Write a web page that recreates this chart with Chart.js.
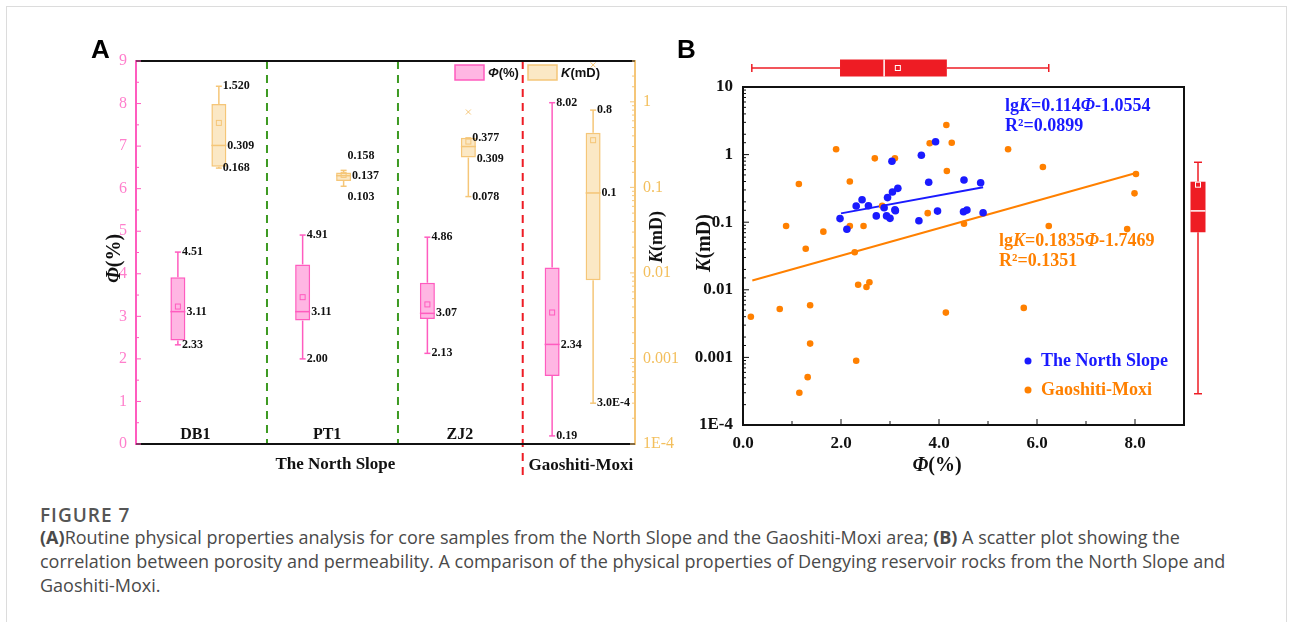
<!DOCTYPE html>
<html>
<head>
<meta charset="utf-8">
<title>Figure 7</title>
<script src="https://cdn.jsdelivr.net/npm/chart.js@4.4.1/dist/chart.umd.min.js"></script>
<style>
  body { margin: 0; width: 1292px; height: 622px; overflow: hidden; position: relative; background: #fff; }
  #frame { position: absolute; left: 6px; top: 6px; width: 1279px; height: 640px; border: 1px solid #dcdcdc; }
  #cA { position: absolute; left: 0; top: 0; }
  #cB { position: absolute; left: 660px; top: 30px; }
  .plab { position: absolute; font: bold 26px "Liberation Sans", Arial, sans-serif; color: #000; line-height: 26px; }
  #fig { position: absolute; left: 40px; top: 503px; font: 600 19px "Open Sans", sans-serif; color: #555; line-height: 24px; letter-spacing: 1px; }
  #cap { position: absolute; left: 40px; top: 525px; font: 18px "Open Sans", sans-serif; color: #4a4a4a; line-height: 24px; white-space: nowrap; }
</style>
</head>
<body>
<div id="frame"></div>
<canvas id="cA" width="700" height="500"></canvas>
<canvas id="cB" width="600" height="470"></canvas>
<div class="plab" style="left:91px;top:36px">A</div>
<div class="plab" style="left:677px;top:36px">B</div>
<div id="fig">FIGURE 7</div>
<div id="cap"><b>(A)</b>Routine physical properties analysis for core samples from the North Slope and the Gaoshiti-Moxi area; <b>(B)</b> A scatter plot showing the<br>correlation between porosity and permeability. A comparison of the physical properties of Dengying reservoir rocks from the North Slope and<br>Gaoshiti-Moxi.</div>

<script>
// ---------- Panel A: box plots per well ----------
const wells = ['DB1', 'PT1', 'ZJ2', 'Gaoshiti-Moxi'];

// porosity Φ (%)
const phiMin  = [2.33, 2.00, 2.13, 0.19];
const phiQ1   = [2.43, 2.90, 2.94, 1.60];
const phiMed  = [3.11, 3.11, 3.07, 2.34];
const phiQ3   = [3.92, 4.22, 3.79, 4.15];
const phiMax  = [4.51, 4.91, 4.86, 8.02];
const phiMean = [3.23, 3.45, 3.28, 3.09];
const phiTags = [['4.51', '3.11', '2.33'], ['4.91', '3.11', '2.00'], ['4.86', '3.07', '2.13'], ['8.02', '2.34', '0.19']];

// permeability K (mD)
const kMin  = [0.168, 0.103, 0.078, 0.0003];
const kQ1   = [0.174, 0.119, 0.223, 0.0082];
const kMed  = [0.309, 0.137, 0.300, 0.086];
const kQ3   = [0.94, 0.149, 0.379, 0.434];
const kMax  = [1.52, 0.158, 0.379, 0.8];
const kMean = [0.567, 0.140, 0.343, 0.356];
const kOutliers = [[], [], [0.76], [2.7]];
const kTags = [['1.520', '0.309', '0.168'], ['0.158', '0.137', '0.103'], ['0.377', '0.309', '0.078'], ['0.8', '0.1', '3.0E-4']];

// ---------- Panel B: Φ vs K scatter ----------
const northPhi = [1.98, 2.12, 2.31, 2.43, 2.56, 2.72, 2.88, 2.95, 3.05, 3.16, 2.93, 3.00, 3.10, 3.11, 3.04,
                  3.59, 3.64, 3.79, 3.93, 3.97, 4.51, 4.50, 4.57, 4.85, 4.90];
const northK   = [0.113, 0.0785, 0.174, 0.215, 0.175, 0.124, 0.164, 0.231, 0.280, 0.317, 0.124, 0.114, 0.153, 0.148, 0.796,
                  0.105, 0.977, 0.389, 1.55, 0.146, 0.42, 0.143, 0.151, 0.384, 0.138];
const gmPhi = [0.16, 0.75, 0.88, 1.14, 1.15, 1.28, 1.32, 1.37, 1.37, 1.64, 1.90, 2.18, 2.18, 2.28, 2.31, 2.35, 2.52, 2.58,
               2.46, 2.69, 2.84, 3.10, 3.77, 3.81, 4.15, 4.16, 4.26, 4.14, 4.51, 5.41, 5.73, 6.12, 6.24, 7.84, 7.99, 8.02];
const gmK   = [0.0040, 0.0052, 0.088, 0.367, 0.0003, 0.0405, 0.00051, 0.0059, 0.0016, 0.0725, 1.20, 0.40, 0.088, 0.036,
               0.00089, 0.0119, 0.011, 0.0129, 0.088, 0.88, 0.175, 0.88, 0.136, 1.47, 2.74, 0.571, 1.50, 0.0046, 0.095,
               1.20, 0.0054, 0.656, 0.088, 0.079, 0.267, 0.516];

// fitted trend lines (end points as drawn)
const northFitPhi = [2.0, 4.9];
const northFitK   = [0.135, 0.33];
const gmFitPhi = [0.19, 8.02];
const gmFitK   = [0.0137, 0.535];

// marginal box plots: [min, q1, median, q3, max, mean]
const margPhi = [0.18, 1.98, 2.88, 4.16, 6.24, 3.16];
const margK   = [0.00029, 0.071, 0.147, 0.397, 0.77, 0.359];

// ---------- layout / styles ----------
const pink = '#ff5cbf', pinkText = '#ff7fcc', pinkFill = 'rgba(255,110,200,0.5)';
const tan = '#f5c678', tanText = '#f3bf5c', tanFill = 'rgba(248,210,140,0.5)';
const green = '#3d9a22', red = '#ee1c24';
const blue = '#1a1aff', orange = '#ff8000';
const serif = '"Liberation Serif", "Times New Roman", serif';
const sans = '"Liberation Sans", Arial, sans-serif';
const dividerAt = [0.55, 1.6, 2.6];          // category units
const wellLabelShift = [-3, 4, 12];
const kTagShift = [[0, 0, 0], [-14, 0, 11], [0, 12, 0], [0, 0, 0]];

function powLabel(v) {
  const l = Math.log10(v), e = Math.round(l);
  if (Math.abs(l - e) > 1e-6) return '';
  if (e <= -4) return '1E' + e;
  return e >= 0 ? String(Math.pow(10, e)) : Math.pow(10, e).toFixed(-e);
}

function line(ctx, x1, y1, x2, y2) {
  ctx.beginPath(); ctx.moveTo(x1, y1); ctx.lineTo(x2, y2); ctx.stroke();
}

// parts: [text, italic]
function richText(ctx, parts, x, y, size, color, family, align, rotate) {
  ctx.save();
  ctx.translate(x, y);
  if (rotate) ctx.rotate(-Math.PI / 2);
  const fontOf = it => (it ? 'italic ' : '') + 'bold ' + size + 'px ' + family;
  let total = 0;
  parts.forEach(p => { ctx.font = fontOf(p[1]); total += ctx.measureText(p[0]).width; });
  let cx = align === 'center' ? -total / 2 : 0;
  ctx.fillStyle = color; ctx.textBaseline = 'middle'; ctx.textAlign = 'left';
  parts.forEach(p => { ctx.font = fontOf(p[1]); ctx.fillText(p[0], cx, 0); cx += ctx.measureText(p[0]).width; });
  ctx.restore();
}

// short tick marks pointing into the plot area
const inwardTicks = {
  id: 'inwardTicks',
  afterDraw(chart, args, opts) {
    const {ctx, chartArea: a} = chart;
    ctx.save();
    ctx.lineWidth = 1;
    Object.keys(opts).forEach(id => {
      const s = chart.scales[id], o = opts[id];
      if (!s) return;
      ctx.strokeStyle = o.color;
      s.ticks.forEach(t => {
        const p = s.getPixelForValue(t.value);
        const len = t.label !== '' ? o.major : o.minor;
        if (s.position === 'left') line(ctx, a.left, p, a.left + len, p);
        else if (s.position === 'right') line(ctx, a.right, p, a.right - len, p);
        else line(ctx, p, a.bottom, p, a.bottom - len);
      });
    });
    ctx.restore();
  }
};

const panelAExtras = {
  id: 'panelAExtras',
  beforeDatasetsDraw(chart) {
    const {ctx, chartArea: a, scales: {x}} = chart;
    ctx.save();
    ctx.lineWidth = 2;
    ctx.setLineDash([8, 6]);
    dividerAt.forEach((v, i) => {
      const px = x.getPixelForValue(v);
      ctx.strokeStyle = i < 2 ? green : red;
      line(ctx, px, a.top, px, i < 2 ? a.bottom : a.bottom + 31);
    });
    ctx.restore();
  },
  afterDatasetsDraw(chart) {
    const {ctx, chartArea: a, scales: {x, yPhi, yK}} = chart;
    const sets = [
      {scale: yPhi, color: pink, min: phiMin, med: phiMed, max: phiMax, mean: phiMean, out: [[], [], [], []], tags: phiTags, shift: [[0,0,0],[0,0,0],[0,0,0],[0,0,0]]},
      {scale: yK, color: tan, min: kMin, med: kMed, max: kMax, mean: kMean, out: kOutliers, tags: kTags, shift: kTagShift}
    ];
    ctx.save();
    sets.forEach((s, d) => {
      chart.getDatasetMeta(d).data.forEach((bar, i) => {
        const cx = bar.x, hw = bar.width / 2;
        const py = v => s.scale.getPixelForValue(v);
        const top = Math.min(bar.y, bar.base), bot = Math.max(bar.y, bar.base);
        ctx.strokeStyle = s.color; ctx.lineWidth = 1.5;
        line(ctx, cx, top, cx, py(s.max[i]));
        line(ctx, cx, bot, cx, py(s.min[i]));
        line(ctx, cx - 3, py(s.max[i]), cx + 3, py(s.max[i]));
        line(ctx, cx - 3, py(s.min[i]), cx + 3, py(s.min[i]));
        line(ctx, cx - hw, py(s.med[i]), cx + hw, py(s.med[i]));
        ctx.lineWidth = 1;
        ctx.strokeRect(cx - 2.5, py(s.mean[i]) - 2.5, 5, 5);
        s.out[i].forEach(v => {
          const oy = py(v);
          line(ctx, cx - 2.5, oy - 2.5, cx + 2.5, oy + 2.5);
          line(ctx, cx - 2.5, oy + 2.5, cx + 2.5, oy - 2.5);
        });
        ctx.fillStyle = '#111';
        ctx.font = 'bold 12px ' + serif;
        ctx.textAlign = 'left'; ctx.textBaseline = 'middle';
        const t = s.tags[i], sh = s.shift[i];
        ctx.fillText(t[0], cx + 4, py(s.max[i]) + sh[0]);
        ctx.fillText(t[1], cx + hw + 1, py(s.med[i]) + sh[1]);
        ctx.fillText(t[2], cx + 4, py(s.min[i]) + sh[2]);
      });
    });

    // frame top / bottom
    ctx.strokeStyle = '#111'; ctx.lineWidth = 2;
    line(ctx, a.left, a.top, a.right, a.top);
    line(ctx, a.left, a.bottom, a.right, a.bottom);

    // well names
    ctx.fillStyle = '#111'; ctx.textAlign = 'center'; ctx.textBaseline = 'middle';
    ctx.font = 'bold 16px ' + serif;
    for (let i = 0; i < 3; i++) ctx.fillText(wells[i], x.getPixelForValue(i) + wellLabelShift[i], a.bottom - 9);
    ctx.font = 'bold 17px ' + serif;
    const d3 = x.getPixelForValue(dividerAt[2]);
    ctx.fillText('The North Slope', (a.left + d3) / 2 + 6, a.bottom + 21);
    ctx.fillText(wells[3], (d3 + a.right) / 2 + 2, a.bottom + 22);

    // legend
    ctx.lineWidth = 1.5;
    ctx.fillStyle = pinkFill; ctx.strokeStyle = pink;
    ctx.fillRect(a.left + 319, a.top + 4, 29, 15); ctx.strokeRect(a.left + 319, a.top + 4, 29, 15);
    ctx.fillStyle = tanFill; ctx.strokeStyle = tan;
    ctx.fillRect(a.left + 392, a.top + 4, 29, 15); ctx.strokeRect(a.left + 392, a.top + 4, 29, 15);
    richText(ctx, [['Φ', true], ['(%)', false]], a.left + 352, a.top + 12, 13, '#111', sans, 'left');
    richText(ctx, [['K', true], ['(mD)', false]], a.left + 425, a.top + 12, 13, '#111', sans, 'left');

    // axis titles
    richText(ctx, [['Φ', true], ['(%)', false]], a.left - 21, (a.top + a.bottom) / 2 + 6, 20, '#111', serif, 'center', true);
    richText(ctx, [['K', true], ['(mD)', false]], a.right + 22, a.top + 176, 18, '#111', serif, 'center', true);
    ctx.restore();
  }
};

new Chart(document.getElementById('cA'), {
  type: 'bar',
  data: {
    labels: wells,
    datasets: [
      {label: 'Φ(%)', data: wells.map((w, i) => [phiQ1[i], phiQ3[i]]), yAxisID: 'yPhi',
       backgroundColor: pinkFill, borderColor: pink, borderWidth: 1.5, borderSkipped: false,
       categoryPercentage: 0.657, barPercentage: 0.366},
      {label: 'K(mD)', data: wells.map((w, i) => [kQ1[i], kQ3[i]]), yAxisID: 'yK',
       backgroundColor: tanFill, borderColor: tan, borderWidth: 1.5, borderSkipped: false,
       categoryPercentage: 0.657, barPercentage: 0.366}
    ]
  },
  options: {
    responsive: false,
    animation: false,
    layout: {padding: {left: 96, right: 5, top: 61, bottom: 56}},
    plugins: {
      legend: {display: false}, tooltip: {enabled: false},
      inwardTicks: {yPhi: {color: pink, major: 5, minor: 3}, yK: {color: tan, major: 5, minor: 3}}
    },
    scales: {
      x: {display: false},
      yPhi: {
        position: 'left', min: 0, max: 9,
        ticks: {stepSize: 0.5, autoSkip: false, padding: 9, color: pinkText,
                font: {family: serif, size: 16},
                callback: v => Number.isInteger(v) ? v : ''},
        grid: {display: false, drawTicks: false},
        border: {color: pink, width: 2},
        afterFit(s) { s.width = 40; }
      },
      yK: {
        type: 'logarithmic', position: 'right', min: 1e-4, max: 3,
        ticks: {autoSkip: false, padding: 8, color: tanText, font: {family: serif, size: 16},
                callback: v => powLabel(v)},
        grid: {display: false, drawTicks: false},
        border: {color: tan, width: 2},
        afterFit(s) { s.width = 60; }
      }
    }
  },
  plugins: [panelAExtras, inwardTicks]
});

const panelBExtras = {
  id: 'panelBExtras',
  afterDraw(chart) {
    const {ctx, chartArea: a, scales: {x, y}} = chart;
    ctx.save();
    ctx.strokeStyle = '#111'; ctx.lineWidth = 2;
    ctx.strokeRect(a.left, a.top, a.width, a.height);

    // marginal Φ box (top)
    const px = v => x.getPixelForValue(v);
    const ty = a.top - 19, th = 17;
    ctx.strokeStyle = red; ctx.fillStyle = red; ctx.lineWidth = 1.5;
    line(ctx, px(margPhi[0]), ty, px(margPhi[1]), ty);
    line(ctx, px(margPhi[3]), ty, px(margPhi[4]), ty);
    line(ctx, px(margPhi[0]), ty - 4, px(margPhi[0]), ty + 4);
    line(ctx, px(margPhi[4]), ty - 4, px(margPhi[4]), ty + 4);
    ctx.fillRect(px(margPhi[1]), ty - th / 2, px(margPhi[3]) - px(margPhi[1]), th);
    ctx.strokeStyle = '#fff';
    line(ctx, px(margPhi[2]), ty - th / 2, px(margPhi[2]), ty + th / 2);
    ctx.lineWidth = 1;
    ctx.strokeRect(px(margPhi[5]) - 2.5, ty - 2.5, 5, 5);

    // marginal K box (right)
    const py = v => y.getPixelForValue(v);
    const rx = a.right + 14, rw = 15;
    ctx.strokeStyle = red; ctx.lineWidth = 1.5;
    line(ctx, rx, py(margK[0]), rx, py(margK[1]));
    line(ctx, rx, py(margK[3]), rx, py(margK[4]));
    line(ctx, rx - 4, py(margK[0]), rx + 4, py(margK[0]));
    line(ctx, rx - 4, py(margK[4]), rx + 4, py(margK[4]));
    ctx.fillRect(rx - rw / 2, py(margK[3]), rw, py(margK[1]) - py(margK[3]));
    ctx.strokeStyle = '#fff';
    line(ctx, rx - rw / 2, py(margK[2]), rx + rw / 2, py(margK[2]));
    ctx.lineWidth = 1;
    ctx.strokeRect(rx - 2.5, py(margK[5]) - 2.5, 5, 5);

    // fit equations
    richText(ctx, [['lg', false], ['K', true], ['=0.114', false], ['Φ', true], ['-1.0554', false]], a.left + 262, a.top + 19, 18, blue, serif, 'left');
    richText(ctx, [['R²=0.0899', false]], a.left + 262, a.top + 39, 18, blue, serif, 'left');
    richText(ctx, [['lg', false], ['K', true], ['=0.1835', false], ['Φ', true], ['-1.7469', false]], a.left + 256, a.top + 154, 18, orange, serif, 'left');
    richText(ctx, [['R²=0.1351', false]], a.left + 256, a.top + 174, 18, orange, serif, 'left');

    // legend
    const items = [[chart.data.datasets[0].label, blue, a.bottom - 64], [chart.data.datasets[1].label, orange, a.bottom - 35]];
    items.forEach(([t, c, ly]) => {
      ctx.fillStyle = c;
      ctx.beginPath(); ctx.arc(a.left + 285, ly, 3.5, 0, Math.PI * 2); ctx.fill();
      richText(ctx, [[t, false]], a.left + 298, ly, 18, c, serif, 'left');
    });

    // axis titles
    richText(ctx, [['K', true], ['(mD)', false]], a.left - 38, a.top + 156, 20, '#111', serif, 'center', true);
    richText(ctx, [['Φ', true], ['(%)', false]], a.left + 194, a.bottom + 41, 20, '#111', serif, 'center');
    ctx.restore();
  }
};

new Chart(document.getElementById('cB'), {
  type: 'scatter',
  data: {
    datasets: [
      {label: 'The North Slope', data: northPhi.map((p, i) => ({x: p, y: northK[i]})),
       backgroundColor: blue, borderWidth: 0, pointRadius: 3.8, order: 0},
      {label: 'Gaoshiti-Moxi', data: gmPhi.map((p, i) => ({x: p, y: gmK[i]})),
       backgroundColor: orange, borderWidth: 0, pointRadius: 3.3, order: 1},
      {type: 'line', label: 'north fit', data: northFitPhi.map((p, i) => ({x: p, y: northFitK[i]})),
       borderColor: blue, borderWidth: 2, pointRadius: 0, fill: false, order: 2},
      {type: 'line', label: 'gm fit', data: gmFitPhi.map((p, i) => ({x: p, y: gmFitK[i]})),
       borderColor: orange, borderWidth: 2, pointRadius: 0, fill: false, order: 3}
    ]
  },
  options: {
    responsive: false,
    animation: false,
    layout: {padding: {left: 21, right: 76, top: 57, bottom: 45}},
    plugins: {
      legend: {display: false}, tooltip: {enabled: false},
      inwardTicks: {x: {color: '#111', major: 6, minor: 4}, y: {color: '#111', major: 6, minor: 3}}
    },
    scales: {
      x: {
        type: 'linear', min: 0, max: 9,
        ticks: {stepSize: 1, autoSkip: false, maxRotation: 0, padding: 8, color: '#111',
                font: {family: serif, size: 17, weight: 'bold'},
                callback: v => (v % 2 === 0 && v <= 8) ? v.toFixed(1) : ''},
        grid: {display: false, drawTicks: false},
        border: {color: '#111', width: 2},
        afterFit(s) { s.height = 30; }
      },
      y: {
        type: 'logarithmic', min: 1e-4, max: 10,
        ticks: {autoSkip: false, padding: 10, color: '#111',
                font: {family: serif, size: 17, weight: 'bold'},
                callback: v => powLabel(v)},
        grid: {display: false, drawTicks: false},
        border: {color: '#111', width: 2},
        afterFit(s) { s.width = 62; }
      }
    }
  },
  plugins: [panelBExtras, inwardTicks]
});
</script>
</body>
</html>
